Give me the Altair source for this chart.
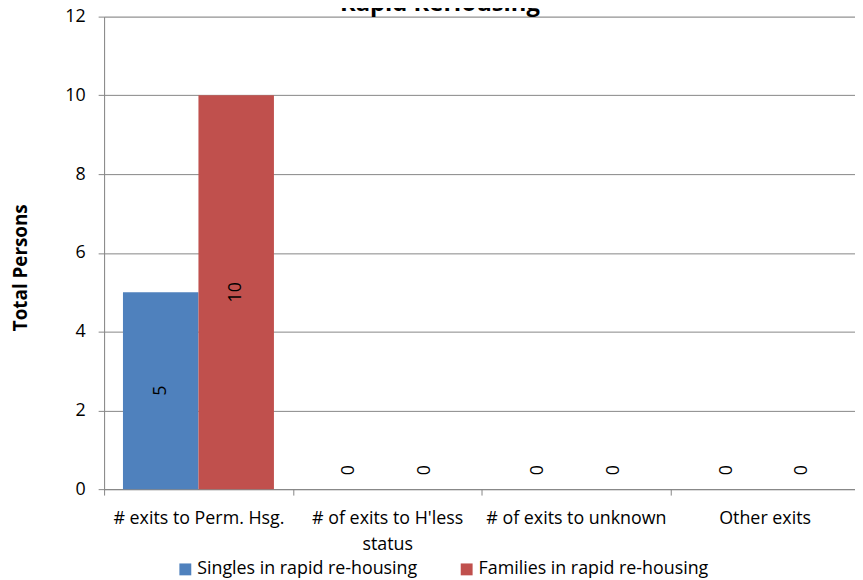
import altair as alt
import pandas as pd

categories = ["# exits to Perm. Hsg.", "# of exits to H'less\nstatus", "# of exits to unknown", "Other exits"]
series = ["Singles in rapid re-housing", "Families in rapid re-housing"]
singles = [5, 0, 0, 0]
families = [10, 0, 0, 0]
colors = ["#4F81BD", "#C0504D"]
y_ticks = [0, 2, 4, 6, 8, 10, 12]

rows = []
for c, s_val, f_val in zip(categories, singles, families):
    rows.append({"category": c, "series": series[0], "value": s_val})
    rows.append({"category": c, "series": series[1], "value": f_val})
df = pd.DataFrame(rows)

FONT = "Open Sans"
GRAY = "#868686"

base = alt.Chart(df).encode(
    x=alt.X(
        "category:N",
        sort=categories,
        scale=alt.Scale(paddingInner=0, paddingOuter=0, range=[0, 762]),
        axis=alt.Axis(
            title=None, labelAngle=0, tickBand="extent",
            labelExpr="split(datum.label, '\\n')",
            labelFont=FONT, labelFontSize=18, labelLineHeight=26, labelColor="black",
            labelPadding=15, labelLimit=400, tickSize=6, tickColor=GRAY,
            domainColor=GRAY, grid=False,
        ),
    ),
    xOffset=alt.XOffset("series:N", sort=series, scale=alt.Scale(paddingInner=0, paddingOuter=0.25)),
)

bars = base.mark_bar().encode(
    y=alt.Y(
        "value:Q",
        scale=alt.Scale(domain=[0, 12], nice=False),
        axis=alt.Axis(
            values=y_ticks, title="Total Persons", titleFont=FONT, titleFontSize=19,
            titleFontWeight="bold", titleColor="black", titleX=-84, titleY=253,
            titleAlign="center", titleBaseline="middle", titleAngle=270,
            labelFont=FONT, labelFontSize=18, labelColor="black", labelPadding=13,
            tickSize=6, tickColor=GRAY, domainColor=GRAY, gridColor=GRAY, gridWidth=1,
        ),
    ),
    color=alt.Color(
        "series:N",
        sort=series,
        scale=alt.Scale(domain=series, range=colors),
        legend=alt.Legend(
            orient="none", legendX=73, legendY=549, direction="horizontal", title=None,
            symbolType="square", symbolSize=144, symbolStrokeWidth=0, symbolOpacity=1,
            labelFont=FONT, labelFontSize=18, labelColor="black", labelOffset=3,
            columnPadding=40, labelLimit=400,
        ),
    ),
)

labels = base.mark_text(angle=270, font=FONT, fontSize=18, color="black").transform_calculate(
    pos="datum.value > 0 ? datum.value / 2 : 0.48"
).encode(
    y=alt.Y("pos:Q"),
    text=alt.Text("value:Q"),
)

chart = alt.layer(bars, labels).properties(
    width=758,
    height=477,
    padding={"left": 97, "top": 6, "right": 0, "bottom": 88},
    autosize=alt.AutoSizeParams(type="none"),
    title=alt.TitleParams(
        "Rapid ReHousing", font=FONT, fontSize=24, fontWeight="bold", color="black",
        dx=-40, dy=32, offset=0, frame="group", baseline="bottom",
    ),
).configure_view(stroke=None).configure(background="white")

chart.save("out.html", embed_options={"renderer": "svg", "actions": False})
